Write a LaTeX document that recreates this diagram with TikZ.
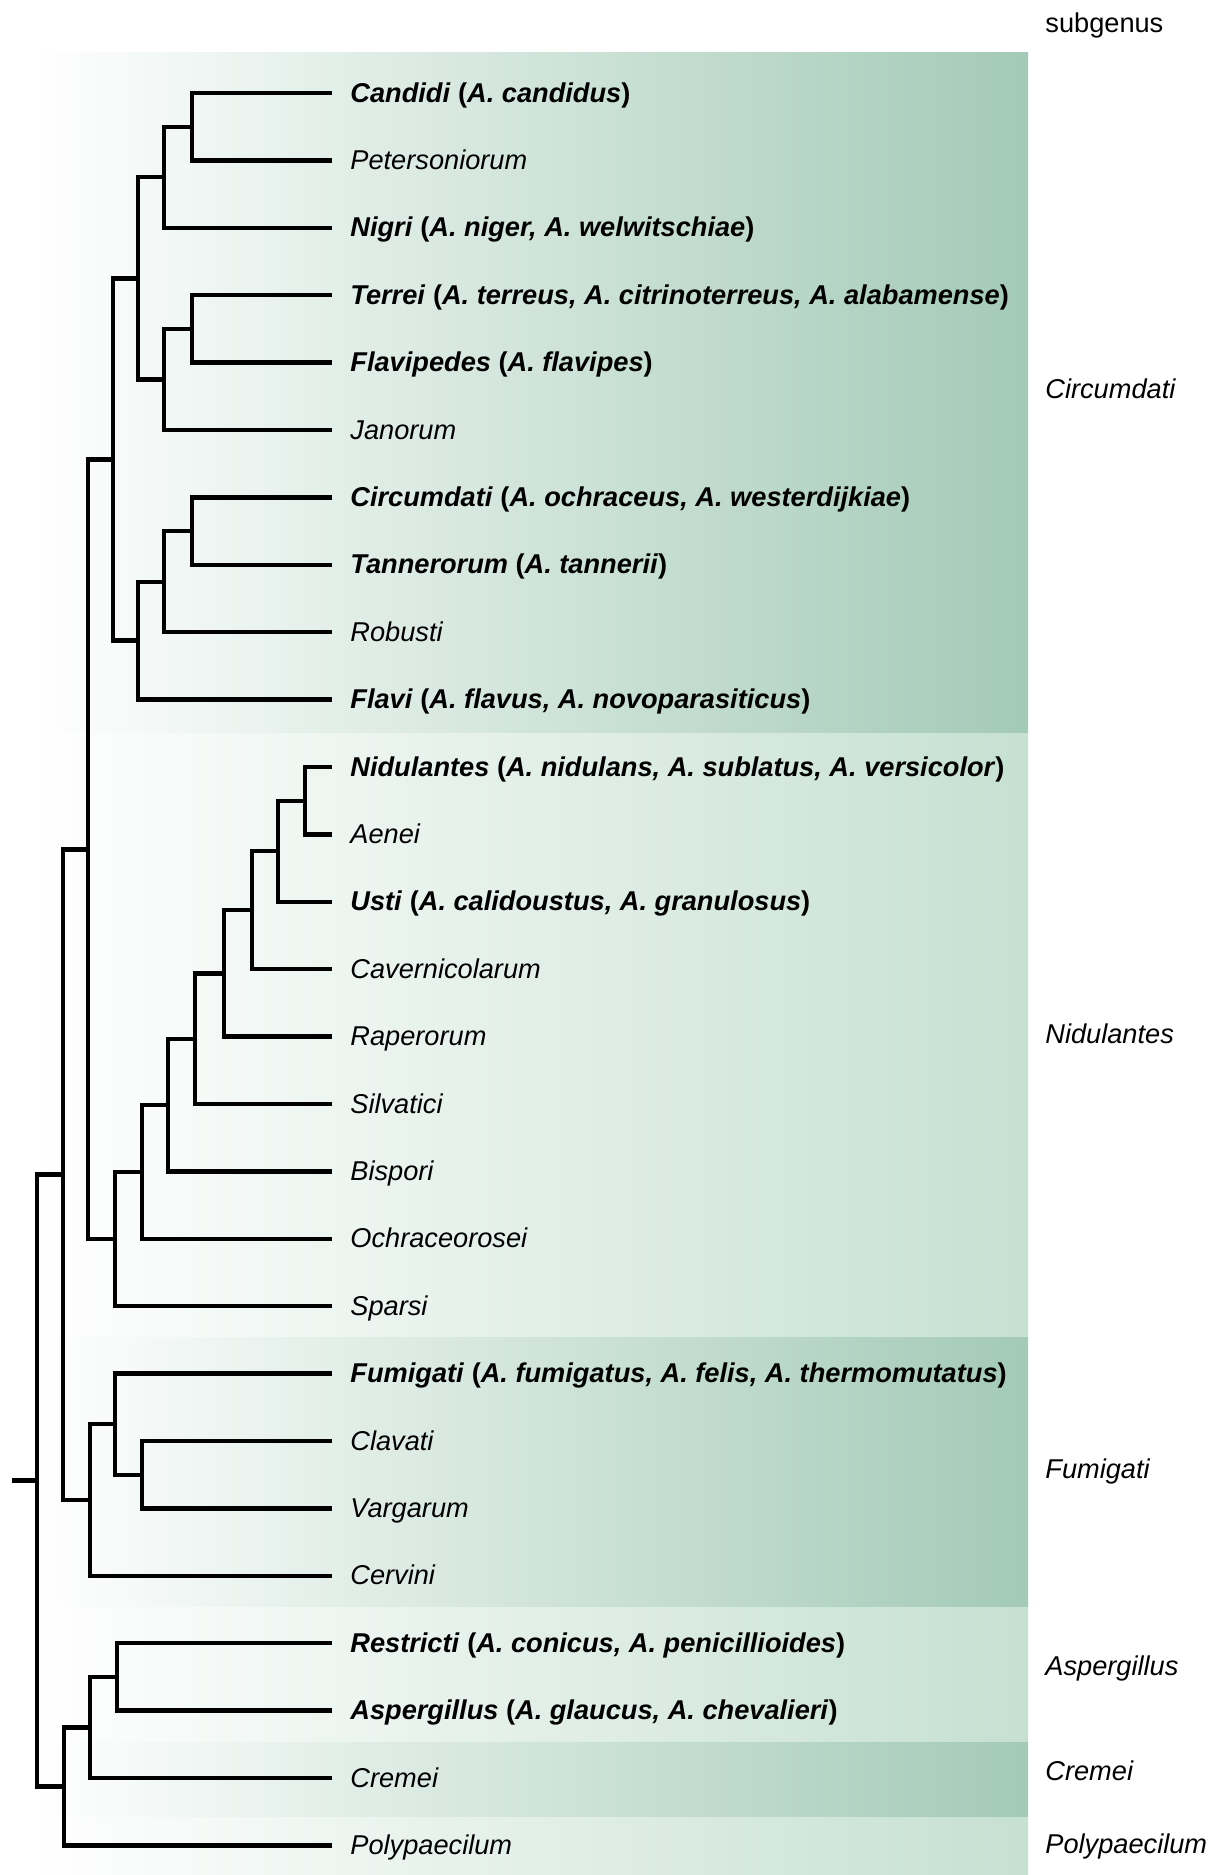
\documentclass[tikz,border=0pt]{standalone}
\usepackage{fontspec}
\setmainfont{Liberation Sans}
\definecolor{dk}{RGB}{163,202,183}
\definecolor{lt}{RGB}{198,224,210}
\newcommand{\leaf}[3]{\coordinate (t#1) at (332,#2); \node[lab] (n#1) at (350,#2+9) {#3};}
\begin{document}
\begin{tikzpicture}[x=0.5pt,y=-0.5pt,
  branch/.style={line width=2.2pt, line join=miter, black},
  lab/.style={font=\fontsize{13.6}{16}\selectfont, inner sep=0pt, anchor=base west},
  sub/.style={font=\fontsize{13.6}{16}\selectfont, inner sep=0pt, anchor=base west}]
\useasboundingbox (0,0) rectangle (1216,1875);
% bands
\shade[left color=white,right color=dk] (30,52) rectangle (1028,733);
\shade[left color=white,right color=lt] (30,733) rectangle (1028,1337);
\shade[left color=white,right color=dk] (30,1337) rectangle (1028,1607);
\shade[left color=white,right color=lt] (30,1607) rectangle (1028,1742);
\shade[left color=white,right color=dk] (30,1742) rectangle (1028,1817);
\shade[left color=white,right color=lt] (30,1817) rectangle (1028,1875);
% leaves
\leaf{0}{93}{\textbf{\textit{Candidi} (\textit{A. candidus})}}
\leaf{1}{160.4}{\textit{Petersoniorum}}
\leaf{2}{227.8}{\textbf{\textit{Nigri} (\textit{A. niger, A. welwitschiae})}}
\leaf{3}{295.2}{\textbf{\textit{Terrei} (\textit{A. terreus, A. citrinoterreus, A. alabamense})}}
\leaf{4}{362.6}{\textbf{\textit{Flavipedes} (\textit{A. flavipes})}}
\leaf{5}{430}{\textit{Janorum}}
\leaf{6}{497.4}{\textbf{\textit{Circumdati} (\textit{A. ochraceus, A. westerdijkiae})}}
\leaf{7}{564.8}{\textbf{\textit{Tannerorum} (\textit{A. tannerii})}}
\leaf{8}{632.2}{\textit{Robusti}}
\leaf{9}{699.6}{\textbf{\textit{Flavi} (\textit{A. flavus, A. novoparasiticus})}}
\leaf{10}{767}{\textbf{\textit{Nidulantes} (\textit{A. nidulans, A. sublatus, A. versicolor})}}
\leaf{11}{834.4}{\textit{Aenei}}
\leaf{12}{901.8}{\textbf{\textit{Usti} (\textit{A. calidoustus, A. granulosus})}}
\leaf{13}{969.2}{\textit{Cavernicolarum}}
\leaf{14}{1036.6}{\textit{Raperorum}}
\leaf{15}{1104}{\textit{Silvatici}}
\leaf{16}{1171.4}{\textit{Bispori}}
\leaf{17}{1238.8}{\textit{Ochraceorosei}}
\leaf{18}{1306.2}{\textit{Sparsi}}
\leaf{19}{1373.6}{\textbf{\textit{Fumigati} (\textit{A. fumigatus, A. felis, A. thermomutatus})}}
\leaf{20}{1441}{\textit{Clavati}}
\leaf{21}{1508.4}{\textit{Vargarum}}
\leaf{22}{1575.8}{\textit{Cervini}}
\leaf{23}{1643.2}{\textbf{\textit{Restricti} (\textit{A. conicus, A. penicillioides})}}
\leaf{24}{1710.6}{\textbf{\textit{Aspergillus} (\textit{A. glaucus, A. chevalieri})}}
\leaf{25}{1778}{\textit{Cremei}}
\leaf{26}{1845.4}{\textit{Polypaecilum}}
% internal nodes
\coordinate (a1) at (192,126.7);
\coordinate (a2) at (164,177.2);
\coordinate (a3) at (192,328.9);
\coordinate (a4) at (164,379.5);
\coordinate (a5) at (138,278.3);
\coordinate (a6) at (192,531.1);
\coordinate (a7) at (164,581.7);
\coordinate (a8) at (138,640.6);
\coordinate (a9) at (113,459.5);
\coordinate (b1) at (305,800.7);
\coordinate (b2) at (278,851.2);
\coordinate (b3) at (252,910.2);
\coordinate (b4) at (224,973.4);
\coordinate (b5) at (195,1038.7);
\coordinate (b6) at (168,1105);
\coordinate (b7) at (142,1171.9);
\coordinate (b8) at (115,1239);
\coordinate (c0) at (88,849.3);
\coordinate (f1) at (142,1474.7);
\coordinate (f2) at (115,1424.2);
\coordinate (f3) at (90,1500);
\coordinate (c1) at (63,1174.6);
\coordinate (g1) at (117,1676.9);
\coordinate (g2) at (90,1727.5);
\coordinate (g3) at (64,1786.4);
\coordinate (root) at (37,1480.5);
\coordinate (stub) at (12,1480.5);
% branches
\draw[branch] (t0) -| (a1) |- (t1);
\draw[branch] (a1) -| (a2) |- (t2);
\draw[branch] (t3) -| (a3) |- (t4);
\draw[branch] (a3) -| (a4) |- (t5);
\draw[branch] (a2) -| (a5) |- (a4);
\draw[branch] (t6) -| (a6) |- (t7);
\draw[branch] (a6) -| (a7) |- (t8);
\draw[branch] (a7) -| (a8) |- (t9);
\draw[branch] (a5) -| (a9) |- (a8);
\draw[branch] (t10) -| (b1) |- (t11);
\draw[branch] (b1) -| (b2) |- (t12);
\draw[branch] (b2) -| (b3) |- (t13);
\draw[branch] (b3) -| (b4) |- (t14);
\draw[branch] (b4) -| (b5) |- (t15);
\draw[branch] (b5) -| (b6) |- (t16);
\draw[branch] (b6) -| (b7) |- (t17);
\draw[branch] (b7) -| (b8) |- (t18);
\draw[branch] (a9) -| (c0) |- (b8);
\draw[branch] (t20) -| (f1) |- (t21);
\draw[branch] (t19) -| (f2) |- (f1);
\draw[branch] (f2) -| (f3) |- (t22);
\draw[branch] (c0) -| (c1) |- (f3);
\draw[branch] (t23) -| (g1) |- (t24);
\draw[branch] (g1) -| (g2) |- (t25);
\draw[branch] (g2) -| (g3) |- (t26);
\draw[branch] (c1) -| (root) |- (g3);
\draw[branch] (stub) -- (root);
% subgenus labels
\node[sub] (sg) at (1045,32) {subgenus};
\node[sub] (s1) at (1045,398) {\textit{Circumdati}};
\node[sub] (s2) at (1045,1043) {\textit{Nidulantes}};
\node[sub] (s3) at (1045,1478) {\textit{Fumigati}};
\node[sub] (s4) at (1045,1675) {\textit{Aspergillus}};
\node[sub] (s5) at (1045,1780) {\textit{Cremei}};
\node[sub] (s6) at (1045,1853) {\textit{Polypaecilum}};
\end{tikzpicture}
\end{document}
